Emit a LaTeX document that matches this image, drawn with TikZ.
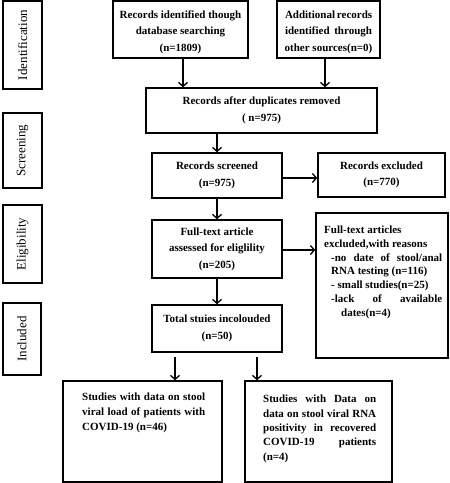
\documentclass[tikz,border=0pt]{standalone}
\usepackage{fontspec}
\setmainfont{Liberation Serif}
\usetikzlibrary{arrows.meta,calc}
\newcommand{\jl}[2]{\makebox[#1][s]{#2}}
\begin{document}
\begin{tikzpicture}[x=1pt,y=-1pt,
  box/.style={draw=black,line width=1.5pt,rectangle,inner sep=0pt,
    font=\bfseries\fontsize{11}{16.5}\selectfont,align=center},
  side/.style={draw=black,line width=1.5pt,rectangle,inner sep=0pt},
  sidetext/.style={rotate=90,font=\fontsize{13}{13}\selectfont,inner sep=0pt},
  txt/.style={inner sep=0pt,align=left,anchor=north west},
  arr/.style={line width=1.3pt,-{Straight Barb[length=4pt,width=9pt,line width=1.3pt]}}]
\useasboundingbox (0,0) rectangle (450,483);
% side labels
\node[side,minimum width=39pt,minimum height=88pt] (sid) at (22.5,45) {};
\node[sidetext] (sidt) at (sid) {Identification};
\node[side,minimum width=39pt,minimum height=75pt] (sscr) at (22.5,150.5) {};
\node[sidetext] (sscrt) at (sscr) {Screening};
\node[side,minimum width=39pt,minimum height=78pt] (seli) at (22.5,244) {};
\node[sidetext] (selit) at (seli) {Eligibility};
\node[side,minimum width=38pt,minimum height=72pt] (sinc) at (22,339) {};
\node[sidetext] (sinct) at (sinc) {Included};
% main boxes
\node[box,minimum width=135pt,minimum height=57pt] (b1) at (180.5,29.5)
  {\rule{0pt}{12.5pt}Records identified though\\database searching\\(n=1809)};
\node[box,minimum width=103pt,minimum height=57pt] (b2) at (328.5,29.5)
  {\rule{0pt}{12.5pt}\jl{87pt}{Additional records}\\\jl{87pt}{identified through}\\other sources(n=0)};
\node[box,minimum width=231pt,minimum height=45pt] (b3) at (261.5,110.5)
  {Records after duplicates removed\\( n=975)};
\node[box,minimum width=130pt,minimum height=45pt] (b4) at (217,175.5)
  {Records screened\\(n=975)};
\node[box,minimum width=127pt,minimum height=44pt] (b5) at (381.5,175)
  {Records excluded\\(n=770)};
\node[box,minimum width=130pt,minimum height=58pt] (b6) at (217,249)
  {Full-text article\\assessed for eliglility\\(n=205)};
\node[box,minimum width=132pt,minimum height=145pt] (b7) at (382,285.5) {};
\node[txt,font=\bfseries\fontsize{11}{13.7}\selectfont] (b7t) at (324,226)
  {Full-text articles\\
   excluded,with reasons\\
   \hspace*{7pt}\jl{111pt}{-no date of stool/anal}\\
   \hspace*{7pt}RNA testing (n=116)\\
   \hspace*{7pt}- small studies(n=25)\\
   \hspace*{7pt}\jl{111pt}{-lack of available}\\
   \hspace*{17pt}dates(n=4)};
\node[box,minimum width=130pt,minimum height=47pt] (b8) at (217,328.5)
  {Total stuies incolouded\\(n=50)};
\node[box,minimum width=159pt,minimum height=101pt] (b9) at (142.5,431.5) {};
\node[txt,font=\bfseries\fontsize{11}{15}\selectfont] (b9t) at (82,393)
  {\jl{123pt}{Studies with data on stool}\\
   \jl{123pt}{viral load of patients with}\\
   COVID-19 (n=46)};
\node[box,minimum width=147pt,minimum height=101pt] (b10) at (318.5,431.5) {};
\node[txt,font=\bfseries\fontsize{11}{14.3}\selectfont] (b10t) at (263,395)
  {\jl{113pt}{Studies with Data on}\\
   \jl{113pt}{data on stool viral RNA}\\
   \jl{113pt}{positivity in recovered}\\
   \jl{113pt}{COVID-19 patients}\\
   (n=4)};
% connectors
\draw[arr] ([xshift=2.5pt]b1.south) -- ([xshift=2.5pt]b1.south |- b3.north);
\draw[arr] ([xshift=-3.5pt]b2.south) -- ([xshift=-3.5pt]b2.south |- b3.north);
\draw[arr] (b3.south -| b4.north) -- (b4.north);
\draw[arr] ([yshift=-2.5pt]b4.east) -- ([yshift=-2.5pt]b4.east -| b5.west);
\draw[arr] (b4.south) -- (b6.north);
\draw[arr] ([yshift=-1pt]b6.east) -- ([yshift=-1pt]b6.east -| b7.west);
\draw[arr] (b6.south) -- (b8.north);
\draw[arr,shorten <=4pt] ([xshift=-42pt]b8.south) -- ([xshift=-42pt]b8.south |- b9.north);
\draw[arr,shorten <=4pt] ([xshift=40pt]b8.south) -- ([xshift=40pt]b8.south |- b10.north);
\end{tikzpicture}
\end{document}
